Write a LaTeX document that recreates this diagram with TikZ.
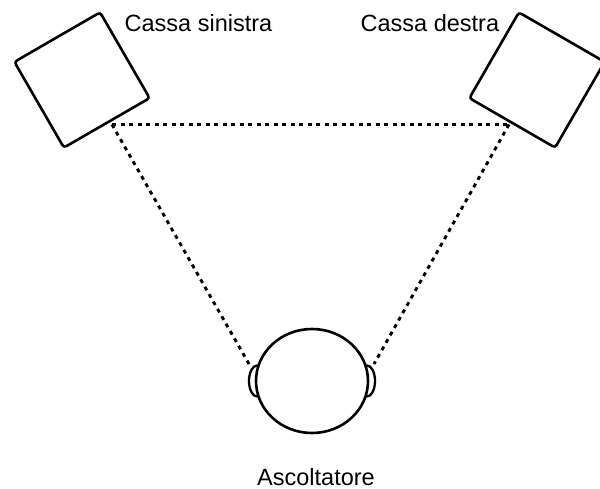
\documentclass[tikz,border=0pt]{standalone}
\usepackage{fontspec}
\setmainfont{Liberation Sans}
\usetikzlibrary{shapes.geometric}
\tikzset{
  speaker/.style={draw, line width=2.6pt, minimum size=99pt, inner sep=0pt, rounded corners=3pt, fill=white},
  lbl/.style={font=\fontsize{23.5}{28}\selectfont, inner sep=0pt},
  dotline/.style={line width=2.9pt, dash pattern=on 4pt off 4.5pt},
  headshape/.style={draw, line width=2.6pt, ellipse, minimum width=112pt, minimum height=104pt, inner sep=0pt, fill=white},
  earshape/.style={draw, line width=2.3pt, ellipse, minimum width=16pt, minimum height=31pt, inner sep=0pt, fill=white}
}
\begin{document}
\begin{tikzpicture}[x=1pt,y=-1pt]
\useasboundingbox (0,0) rectangle (600,489);
% speakers
\node[speaker, rotate=30] (sx) at (82,80) {};
\node[speaker, rotate=-30] (dx) at (537,80) {};
% labels
\node[lbl, anchor=base west] (lsx) at (124.5,31.7) {Cassa sinistra};
\node[lbl, anchor=base west] (ldx) at (360.5,31.7) {Cassa destra};
% meeting points
\coordinate (L) at (112,124.5);
\coordinate (R) at (509,124.5);
% ears and head
\node[earshape] (earL) at (257,381) {};
\node[earshape] (earR) at (367,381) {};
\node[headshape] (head) at (312,381) {};
\coordinate (eL) at (249,364);
\coordinate (eR) at (374,364);
% dotted lines
\draw[dotline] (L) -- (R);
\draw[dotline] (L) -- (eL);
\draw[dotline] (R) -- (eR);
% listener label
\node[lbl, anchor=base] (lab) at (316,485) {Ascoltatore};
\end{tikzpicture}
\end{document}
